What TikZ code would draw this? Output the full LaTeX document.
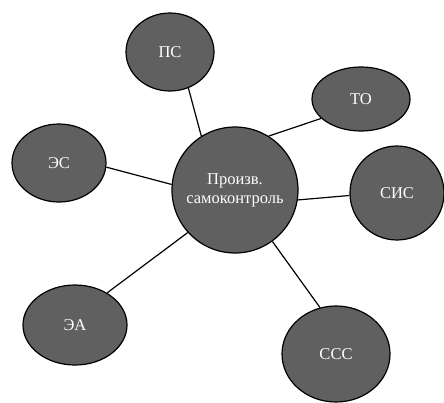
\documentclass[tikz,border=0pt]{standalone}
\usepackage{fontspec}
\setmainfont{Liberation Serif}
\usetikzlibrary{shapes.geometric}
\definecolor{bubblegray}{RGB}{96,96,96}

\begin{document}
\begin{tikzpicture}[x=1pt,y=-1pt,
  bubble/.style={ellipse,draw=black,line width=1.2pt,fill=bubblegray,
    text=white,inner sep=0pt,font=\fontsize{16.5}{19}\selectfont},
  link/.style={line width=1.2pt}]
\useasboundingbox (0,0) rectangle (444,402);
% centre
\node[bubble,minimum width=126pt,minimum height=126pt,inner sep=-20pt,align=center]
  (hub) at (235,190) {Произв.\\самоконтроль};
% satellites
\node[bubble,minimum width=88pt,minimum height=78pt]  (ps)  at (170,52)  {ПС};
\node[bubble,minimum width=98pt,minimum height=64pt]  (to)  at (361,99)  {ТО};
\node[bubble,minimum width=94pt,minimum height=94pt]  (sis) at (397,193) {СИС};
\node[bubble,minimum width=94pt,minimum height=78pt]  (es)  at (59,163)  {ЭС};
\node[bubble,minimum width=104pt,minimum height=80pt] (ea)  at (75,325)  {ЭА};
\node[bubble,minimum width=108pt,minimum height=96pt] (ccc) at (336,354) {ССС};
% links
\draw[link] (hub.122) -- (ps.-63);
\draw[link] (hub.58)  -- (to.-154);
\draw[link] (hub.-9)  -- (sis.183);
\draw[link] (hub.175) -- (es.-5);
\draw[link] (hub.222) -- (ea.45);
\draw[link] (hub.-54) -- (ccc.109);
\end{tikzpicture}
\end{document}
